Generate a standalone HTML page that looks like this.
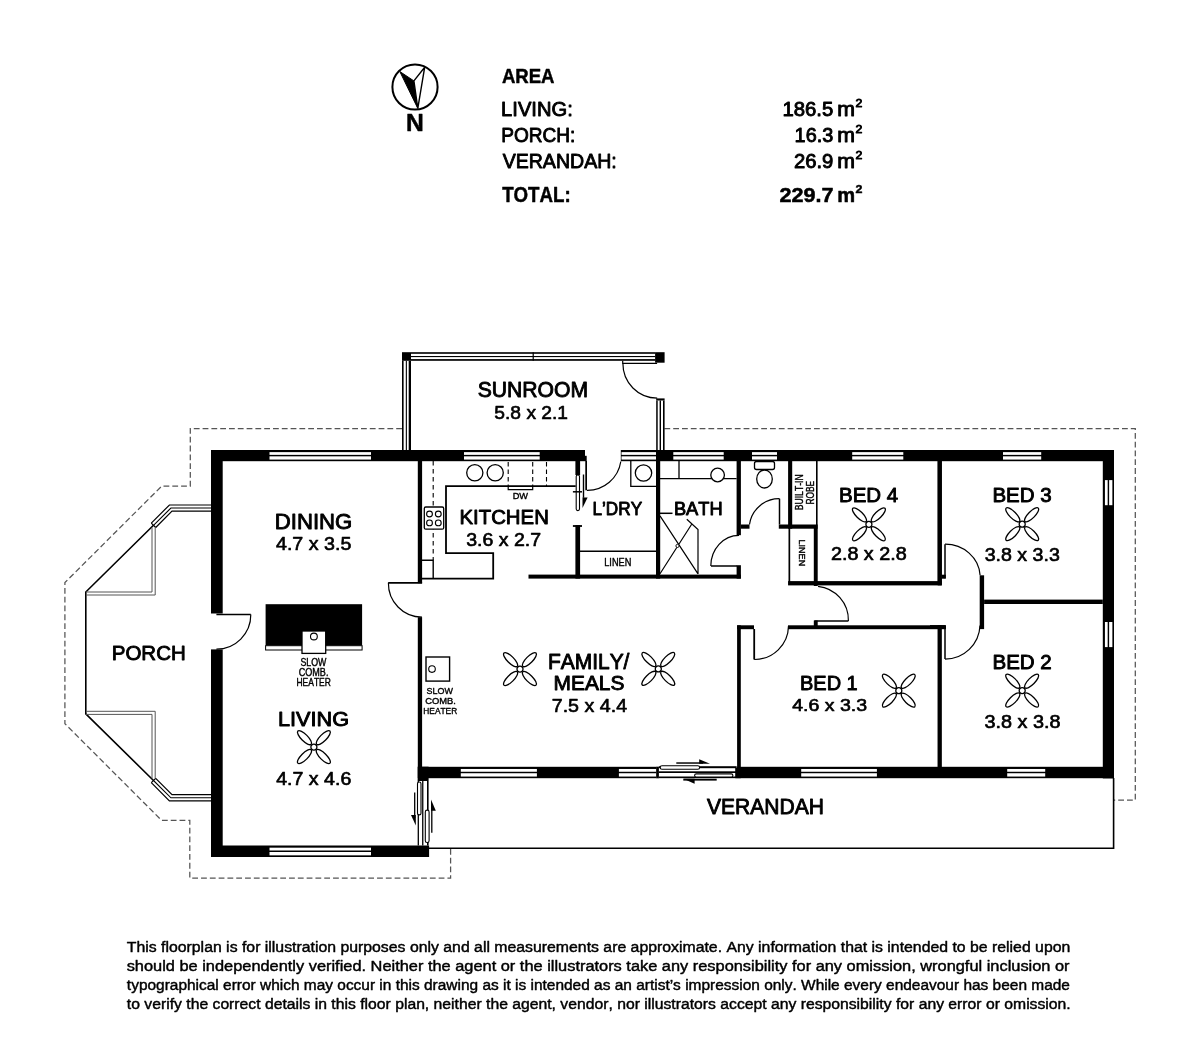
<!DOCTYPE html>
<html><head><meta charset="utf-8"><style>
html,body{margin:0;padding:0;background:#fff;}
body{width:1200px;height:1048px;overflow:hidden;position:relative;}
svg{position:absolute;left:0;top:0;will-change:transform;}
text{font-family:"Liberation Sans",sans-serif;font-kerning:none;}
.disc{position:absolute;left:127px;top:934px;width:943px;font-family:"Liberation Sans",sans-serif;font-size:15px;line-height:19.1px;color:#111;}
.disc div{text-align:justify;text-align-last:justify;white-space:nowrap;}
</style></head><body>
<svg width="1200" height="1048" viewBox="0 0 1200 1048">
<circle cx="415" cy="87" r="22.6" fill="none" stroke="#000" stroke-width="2"/>
<path d="M399.8 71.5 L413.9 80.9 L417.8 108.4 Z" fill="#000" stroke="#000" stroke-width="1"/>
<path d="M413.9 80.9 L424.7 67.2 L417.8 108.4 Z" fill="#fff" stroke="#000" stroke-width="1.4" stroke-linejoin="miter"/>
<text x="406.10" y="131.35" font-size="23.55" font-weight="bold" textLength="17.81" lengthAdjust="spacingAndGlyphs" fill="#000" stroke="#000" stroke-width="0.5" stroke-linejoin="round" >N</text>
<text x="501.89" y="82.85" font-size="20.79" font-weight="bold" textLength="52.65" lengthAdjust="spacingAndGlyphs" fill="#000" stroke="#000" stroke-width="0.5" stroke-linejoin="round" >AREA</text>
<text x="501.10" y="115.95" font-size="20.20" font-weight="normal" textLength="71.69" lengthAdjust="spacingAndGlyphs" fill="#000" stroke="#000" stroke-width="0.9" stroke-linejoin="round" >LIVING:</text>
<text x="501.19" y="142.25" font-size="20.79" font-weight="normal" textLength="74.10" lengthAdjust="spacingAndGlyphs" fill="#000" stroke="#000" stroke-width="0.9" stroke-linejoin="round" >PORCH:</text>
<text x="502.66" y="168.15" font-size="20.79" font-weight="normal" textLength="114.07" lengthAdjust="spacingAndGlyphs" fill="#000" stroke="#000" stroke-width="0.9" stroke-linejoin="round" >VERANDAH:</text>
<text x="502.14" y="202.35" font-size="21.37" font-weight="bold" textLength="68.51" lengthAdjust="spacingAndGlyphs" fill="#000" stroke="#000" stroke-width="0.5" stroke-linejoin="round" >TOTAL:</text>
<text x="782.40" y="115.95" font-size="19.33" font-weight="normal" textLength="50.80" lengthAdjust="spacingAndGlyphs" fill="#000" stroke="#000" stroke-width="0.9" stroke-linejoin="round" >186.5</text>
<g>
<text x="837.34" y="115.95" font-size="19.33" font-weight="normal" textLength="17.71" lengthAdjust="spacingAndGlyphs" fill="#000" stroke="#000" stroke-width="0.9" stroke-linejoin="round" >m</text>
</g>
<text x="855.53" y="106.55" font-size="11.63" font-weight="normal" textLength="6.84" lengthAdjust="spacingAndGlyphs" fill="#000" stroke="#000" stroke-width="0.9" stroke-linejoin="round" >2</text>
<text x="794.64" y="142.15" font-size="19.77" font-weight="normal" textLength="38.58" lengthAdjust="spacingAndGlyphs" fill="#000" stroke="#000" stroke-width="0.9" stroke-linejoin="round" >16.3</text>
<g>
<text x="837.34" y="142.15" font-size="19.77" font-weight="normal" textLength="17.71" lengthAdjust="spacingAndGlyphs" fill="#000" stroke="#000" stroke-width="0.9" stroke-linejoin="round" >m</text>
</g>
<text x="855.53" y="132.55" font-size="11.63" font-weight="normal" textLength="6.84" lengthAdjust="spacingAndGlyphs" fill="#000" stroke="#000" stroke-width="0.9" stroke-linejoin="round" >2</text>
<text x="793.93" y="168.05" font-size="19.62" font-weight="normal" textLength="39.38" lengthAdjust="spacingAndGlyphs" fill="#000" stroke="#000" stroke-width="0.9" stroke-linejoin="round" >26.9</text>
<g>
<text x="837.34" y="168.05" font-size="19.62" font-weight="normal" textLength="17.71" lengthAdjust="spacingAndGlyphs" fill="#000" stroke="#000" stroke-width="0.9" stroke-linejoin="round" >m</text>
</g>
<text x="855.53" y="158.55" font-size="11.77" font-weight="normal" textLength="6.84" lengthAdjust="spacingAndGlyphs" fill="#000" stroke="#000" stroke-width="0.9" stroke-linejoin="round" >2</text>
<text x="779.50" y="202.25" font-size="19.62" font-weight="bold" textLength="54.00" lengthAdjust="spacingAndGlyphs" fill="#000" stroke="#000" stroke-width="0.5" stroke-linejoin="round" >229.7</text>
<g>
<text x="837.23" y="202.25" font-size="19.62" font-weight="bold" textLength="17.87" lengthAdjust="spacingAndGlyphs" fill="#000" stroke="#000" stroke-width="0.5" stroke-linejoin="round" >m</text>
</g>
<text x="855.52" y="193.35" font-size="11.77" font-weight="bold" textLength="6.93" lengthAdjust="spacingAndGlyphs" fill="#000" stroke="#000" stroke-width="0.5" stroke-linejoin="round" >2</text>
<path d="M402 428.5 H190.3 V486.2 H161.6 L64.9 582.6 V723.7 L161.5 820.3 H189.8 V878 H450.6 V848.2" fill="none" stroke="#555" stroke-width="1.25" stroke-dasharray="5.8 3"/>
<path d="M664.4 428.6 H1135.3 V800 H1114" fill="none" stroke="#555" stroke-width="1.25" stroke-dasharray="5.8 3"/>
<path d="M151.3 523.1 L169.4 505 H211" stroke="#000" stroke-width="1.2" fill="none" />
<path d="M153.5 525.3 L170.9 508 H211" stroke="#000" stroke-width="1.1" fill="none" />
<path d="M155.7 527.5 L172 511.1 H211" stroke="#000" stroke-width="1.2" fill="none" />
<path d="M151.3 523.1 L155.7 527.5" stroke="#000" stroke-width="1.2" fill="none" />
<path d="M153.5 525.3 L85.8 592 V713.8 L153.5 780.5" stroke="#000" stroke-width="1.6" fill="none" />
<path d="M152 527.5 V592 H86" stroke="#555" stroke-width="1.0" fill="none" />
<path d="M155.2 527.5 V595 H86" stroke="#555" stroke-width="1.0" fill="none" />
<path d="M86 714.4 H152 V778.3" stroke="#555" stroke-width="1.0" fill="none" />
<path d="M86 711.3 H155.2 V778.3" stroke="#555" stroke-width="1.0" fill="none" />
<path d="M155.7 778.3 L172 794.7 H211" stroke="#000" stroke-width="1.2" fill="none" />
<path d="M153.5 780.5 L170.9 797.8 H211" stroke="#000" stroke-width="1.1" fill="none" />
<path d="M151.3 782.7 L169.4 800.8 H211" stroke="#000" stroke-width="1.2" fill="none" />
<path d="M155.7 778.3 L151.3 782.7" stroke="#000" stroke-width="1.2" fill="none" />
<rect x="211.00" y="450.00" width="374.00" height="11.20" fill="#000" />
<rect x="585.00" y="455.80" width="1.70" height="5.40" fill="#000" />
<rect x="620.80" y="450.00" width="493.20" height="11.20" fill="#000" />
<rect x="269.50" y="452.13" width="101.50" height="2.74" fill="#fff" />
<rect x="269.50" y="456.33" width="101.50" height="3.25" fill="#fff" />
<rect x="464.00" y="452.13" width="75.70" height="2.74" fill="#fff" />
<rect x="464.00" y="456.33" width="75.70" height="3.25" fill="#fff" />
<rect x="621.50" y="452.13" width="34.50" height="2.74" fill="#fff" />
<rect x="621.50" y="456.33" width="34.50" height="3.25" fill="#fff" />
<rect x="673.30" y="452.13" width="50.40" height="2.74" fill="#fff" />
<rect x="673.30" y="456.33" width="50.40" height="3.25" fill="#fff" />
<rect x="752.00" y="452.13" width="25.00" height="2.74" fill="#fff" />
<rect x="752.00" y="456.33" width="25.00" height="3.25" fill="#fff" />
<rect x="852.20" y="452.13" width="51.10" height="2.74" fill="#fff" />
<rect x="852.20" y="456.33" width="51.10" height="3.25" fill="#fff" />
<rect x="1003.00" y="452.13" width="38.20" height="2.74" fill="#fff" />
<rect x="1003.00" y="456.33" width="38.20" height="3.25" fill="#fff" />
<rect x="211.00" y="450.00" width="11.70" height="163.50" fill="#000" />
<rect x="211.00" y="649.40" width="11.70" height="207.60" fill="#000" />
<rect x="1102.80" y="450.00" width="11.20" height="328.40" fill="#000" />
<rect x="1104.93" y="480.10" width="2.74" height="25.10" fill="#fff" />
<rect x="1109.13" y="480.10" width="3.25" height="25.10" fill="#fff" />
<rect x="1104.93" y="622.00" width="2.74" height="25.10" fill="#fff" />
<rect x="1109.13" y="622.00" width="3.25" height="25.10" fill="#fff" />
<rect x="418.00" y="766.80" width="696.00" height="11.40" fill="#000" />
<rect x="460.80" y="768.97" width="76.10" height="2.79" fill="#fff" />
<rect x="460.80" y="773.24" width="76.10" height="3.31" fill="#fff" />
<rect x="618.90" y="768.97" width="37.60" height="2.79" fill="#fff" />
<rect x="618.90" y="773.24" width="37.60" height="3.31" fill="#fff" />
<rect x="801.20" y="768.97" width="75.70" height="2.79" fill="#fff" />
<rect x="801.20" y="773.24" width="75.70" height="3.31" fill="#fff" />
<rect x="1007.20" y="768.97" width="38.00" height="2.79" fill="#fff" />
<rect x="1007.20" y="773.24" width="38.00" height="3.31" fill="#fff" />
<rect x="656.50" y="766.80" width="80.10" height="11.40" fill="#fff" />
<rect x="211.00" y="845.50" width="218.10" height="11.50" fill="#000" />
<rect x="269.50" y="847.68" width="101.50" height="2.82" fill="#fff" />
<rect x="269.50" y="852.00" width="101.50" height="3.34" fill="#fff" />
<rect x="402.00" y="352.20" width="9.00" height="8.60" fill="#000" />
<rect x="402.00" y="360.80" width="1.60" height="89.20" fill="#000" />
<rect x="405.80" y="360.80" width="1.10" height="89.20" fill="#000" />
<rect x="408.70" y="360.80" width="2.30" height="89.20" fill="#000" />
<rect x="411.00" y="352.20" width="244.20" height="1.60" fill="#000" />
<rect x="411.00" y="356.00" width="244.20" height="1.10" fill="#000" />
<rect x="411.00" y="359.10" width="244.20" height="1.70" fill="#000" />
<rect x="532.60" y="352.20" width="1.20" height="8.60" fill="#000" />
<rect x="655.10" y="352.20" width="9.50" height="10.50" fill="#000" />
<path d="M622.7 360.8 V363.4 H657.1" stroke="#000" stroke-width="1.2" fill="none" />
<path d="M622.9 363.6 A34.3 34.3 0 0 0 657.2 398.1" stroke="#000" stroke-width="1.2" fill="none" />
<rect x="656.20" y="398.40" width="8.40" height="2.10" fill="#000" />
<rect x="656.20" y="400.50" width="1.50" height="49.50" fill="#000" />
<rect x="659.60" y="400.50" width="1.40" height="49.50" fill="#000" />
<rect x="663.00" y="400.50" width="1.60" height="49.50" fill="#000" />
<text x="477.69" y="397.25" font-size="21.51" font-weight="normal" textLength="110.39" lengthAdjust="spacingAndGlyphs" fill="#000" stroke="#000" stroke-width="0.9" stroke-linejoin="round" >SUNROOM</text>
<text x="494.36" y="418.68" font-size="19.11" font-weight="normal" textLength="73.66" lengthAdjust="spacingAndGlyphs" fill="#000" stroke="#000" stroke-width="0.65" stroke-linejoin="round" >5.8 x 2.1</text>
<rect x="417.80" y="461.00" width="4.30" height="122.20" fill="#000" />
<rect x="417.80" y="617.20" width="4.30" height="160.80" fill="#000" />
<line x1="388.20" y1="582.80" x2="422.10" y2="582.80" stroke="#000" stroke-width="1.8" />
<path d="M388.4 582.8 A33.8 33.8 0 0 0 422 617.2" stroke="#000" stroke-width="1.2" fill="none" />
<line x1="216.40" y1="614.60" x2="250.80" y2="614.60" stroke="#000" stroke-width="1.5" />
<path d="M250.8 614.6 A34.4 34.4 0 0 1 216.4 649.2" stroke="#000" stroke-width="1.2" fill="none" />
<path d="M575.7 486.1 H446 V553.2 H493.2 V578.7 H422" stroke="#000" stroke-width="1.8" fill="none" />
<path d="M433.2 461 V560.2" stroke="#000" stroke-width="1.1" stroke-dasharray="4.5 3.5" fill="none"/>
<path d="M422 560.2 H433.2 V578.7" stroke="#000" stroke-width="1.4" fill="none" />
<path d="M508.2 462 V486 M532.7 462 V486 M546.5 462 V486" stroke="#000" stroke-width="1.1" stroke-dasharray="4.5 3" fill="none"/>
<path d="M508.2 486 V489.7 H532.7 V486" stroke="#000" stroke-width="1.2" fill="none" />
<circle cx="474.8" cy="472.8" r="8.1" fill="none" stroke="#000" stroke-width="1.3"/>
<circle cx="495.2" cy="472.8" r="8.1" fill="none" stroke="#000" stroke-width="1.3"/>
<rect x="424.3" y="507" width="19.4" height="22.2" rx="1.5" fill="#fff" stroke="#000" stroke-width="1.3"/>
<circle cx="429.5" cy="514" r="2.9" fill="none" stroke="#000" stroke-width="1.1"/>
<circle cx="438.3" cy="514" r="2.9" fill="none" stroke="#000" stroke-width="1.1"/>
<circle cx="429.5" cy="522.9" r="2.9" fill="none" stroke="#000" stroke-width="1.1"/>
<circle cx="438.3" cy="522.9" r="2.9" fill="none" stroke="#000" stroke-width="1.1"/>
<text x="459.48" y="524.05" font-size="19.77" font-weight="normal" textLength="89.43" lengthAdjust="spacingAndGlyphs" fill="#000" stroke="#000" stroke-width="0.9" stroke-linejoin="round" >KITCHEN</text>
<text x="466.28" y="545.67" font-size="18.68" font-weight="normal" textLength="74.88" lengthAdjust="spacingAndGlyphs" fill="#000" stroke="#000" stroke-width="0.65" stroke-linejoin="round" >3.6 x 2.7</text>
<text x="512.64" y="499.30" font-size="9.30" font-weight="normal" textLength="15.39" lengthAdjust="spacingAndGlyphs" fill="#000" stroke="#000" stroke-width="0.4" stroke-linejoin="round" >DW</text>
<rect x="575.40" y="461.00" width="4.70" height="14.00" fill="#000" />
<rect x="576.2" y="475" width="3.3" height="35.6" rx="1.6" fill="#fff" stroke="#000" stroke-width="1.1"/>
<line x1="572.90" y1="491.80" x2="582.00" y2="491.80" stroke="#000" stroke-width="1.5" />
<rect x="582.80" y="474.50" width="1.40" height="23.30" fill="#000" />
<path d="M582.5 497.5 L587.6 497.5 L582.5 508 Z" fill="#000"/>
<rect x="585.30" y="461.00" width="1.70" height="29.30" fill="#000" />
<path d="M587 490.3 A33.8 33.8 0 0 0 620.8 461.5" stroke="#000" stroke-width="1.2" fill="none" />
<rect x="572.90" y="525.10" width="9.10" height="1.80" fill="#000" />
<rect x="575.40" y="525.10" width="4.70" height="53.50" fill="#000" />
<rect x="528.50" y="574.60" width="212.40" height="4.00" fill="#000" />
<line x1="580.00" y1="551.20" x2="656.00" y2="551.20" stroke="#000" stroke-width="1.5" />
<text x="604.25" y="565.70" font-size="10.47" font-weight="normal" textLength="27.11" lengthAdjust="spacingAndGlyphs" fill="#000" stroke="#000" stroke-width="0.4" stroke-linejoin="round" >LINEN</text>
<rect x="656.00" y="461.00" width="4.20" height="117.60" fill="#000" />
<path d="M630.8 461 V486.4 H656" stroke="#000" stroke-width="1.3" fill="none" />
<circle cx="643.5" cy="473" r="8.2" fill="none" stroke="#000" stroke-width="1.3"/>
<text x="592.44" y="515.35" font-size="18.02" font-weight="normal" textLength="49.69" lengthAdjust="spacingAndGlyphs" fill="#000" stroke="#000" stroke-width="0.9" stroke-linejoin="round" >L’DRY</text>
<path d="M660 478.6 H736.6 M679 461 V478.6" stroke="#000" stroke-width="1.3" fill="none" />
<circle cx="717.6" cy="475" r="6.8" fill="#fff" stroke="#000" stroke-width="1.3"/>
<rect x="736.60" y="461.00" width="4.30" height="74.20" fill="#000" />
<rect x="736.60" y="565.20" width="4.30" height="13.40" fill="#000" />
<line x1="711.00" y1="566.00" x2="737.00" y2="566.00" stroke="#000" stroke-width="1.5" />
<path d="M710.8 566 A28.2 30.7 0 0 1 739 535.3" stroke="#000" stroke-width="1.2" fill="none" />
<text x="673.95" y="515.45" font-size="18.46" font-weight="normal" textLength="48.69" lengthAdjust="spacingAndGlyphs" fill="#000" stroke="#000" stroke-width="0.9" stroke-linejoin="round" >BATH</text>
<line x1="660.00" y1="513.30" x2="672.50" y2="513.30" stroke="#000" stroke-width="1.5" />
<path d="M660 515.9 L698 573.8 M660 573.8 L691.5 524.5 M686.8 519.2 L698 529.5 V574" stroke="#000" stroke-width="1.2" fill="none" />
<circle cx="677.5" cy="545.9" r="1.6" fill="#fff" stroke="#000" stroke-width="0.9"/>
<rect x="754.5" y="461.5" width="20" height="8" rx="2" fill="#fff" stroke="#000" stroke-width="1.3"/>
<ellipse cx="764.5" cy="479" rx="7.8" ry="9" fill="#fff" stroke="#000" stroke-width="1.3"/>
<rect x="740.90" y="524.50" width="8.60" height="4.20" fill="#000" />
<rect x="778.80" y="524.50" width="38.90" height="4.20" fill="#000" />
<line x1="779.50" y1="498.70" x2="779.50" y2="524.50" stroke="#000" stroke-width="1.5" />
<path d="M749.5 524.5 A30 30 0 0 1 779.5 498.7" stroke="#000" stroke-width="1.2" fill="none" />
<rect x="788.10" y="461.00" width="4.10" height="67.70" fill="#000" />
<rect x="816.00" y="461.00" width="1.60" height="67.00" fill="#000" />
<g transform="translate(803.6 509.7) rotate(-90)">
<text x="-0.50" y="-0.20" font-size="10.61" font-weight="normal" textLength="35.81" lengthAdjust="spacingAndGlyphs" fill="#000" stroke="#000" stroke-width="0.4" stroke-linejoin="round" >BUILT-IN</text>
</g>
<g transform="translate(814.2 504.1) rotate(-90)">
<text x="-0.48" y="-0.20" font-size="10.32" font-weight="normal" textLength="23.64" lengthAdjust="spacingAndGlyphs" fill="#000" stroke="#000" stroke-width="0.4" stroke-linejoin="round" >ROBE</text>
</g>
<g transform="translate(798.4 540.1) rotate(90)">
<text x="-0.54" y="-0.20" font-size="9.74" font-weight="normal" textLength="26.58" lengthAdjust="spacingAndGlyphs" fill="#000" stroke="#000" stroke-width="0.4" stroke-linejoin="round" >LINEN</text>
</g>
<rect x="788.50" y="528.00" width="1.70" height="56.80" fill="#000" />
<rect x="813.80" y="528.00" width="3.90" height="58.00" fill="#000" />
<rect x="788.10" y="581.10" width="153.50" height="4.30" fill="#000" />
<rect x="937.70" y="461.00" width="4.20" height="124.40" fill="#000" />
<text x="839.07" y="502.05" font-size="19.91" font-weight="normal" textLength="59.18" lengthAdjust="spacingAndGlyphs" fill="#000" stroke="#000" stroke-width="0.9" stroke-linejoin="round" >BED 4</text>
<text x="830.93" y="560.47" font-size="17.81" font-weight="normal" textLength="75.80" lengthAdjust="spacingAndGlyphs" fill="#000" stroke="#000" stroke-width="0.65" stroke-linejoin="round" >2.8 x 2.8</text>
<g transform="translate(868.90,524.30)" fill="none" stroke="#000" stroke-width="1.3">
<ellipse cx="13.3" cy="0" rx="9.4" ry="3.3" transform="rotate(45)"/>
<ellipse cx="13.3" cy="0" rx="9.4" ry="3.3" transform="rotate(135)"/>
<ellipse cx="13.3" cy="0" rx="9.4" ry="3.3" transform="rotate(225)"/>
<ellipse cx="13.3" cy="0" rx="9.4" ry="3.3" transform="rotate(315)"/>
<circle r="3.0" fill="#fff"/>
</g>
<line x1="814.40" y1="620.90" x2="848.40" y2="620.90" stroke="#000" stroke-width="1.5" />
<rect x="813.80" y="620.50" width="3.90" height="5.50" fill="#000" />
<path d="M818 586.3 A34 34 0 0 1 848.4 620.9" stroke="#000" stroke-width="1.2" fill="none" />
<rect x="937.60" y="461.00" width="4.00" height="123.30" fill="#000" />
<text x="992.47" y="502.15" font-size="19.77" font-weight="normal" textLength="59.18" lengthAdjust="spacingAndGlyphs" fill="#000" stroke="#000" stroke-width="0.9" stroke-linejoin="round" >BED 3</text>
<text x="984.68" y="560.97" font-size="17.95" font-weight="normal" textLength="75.16" lengthAdjust="spacingAndGlyphs" fill="#000" stroke="#000" stroke-width="0.65" stroke-linejoin="round" >3.8 x 3.3</text>
<g transform="translate(1022.20,524.20)" fill="none" stroke="#000" stroke-width="1.3">
<ellipse cx="13.3" cy="0" rx="9.4" ry="3.3" transform="rotate(45)"/>
<ellipse cx="13.3" cy="0" rx="9.4" ry="3.3" transform="rotate(135)"/>
<ellipse cx="13.3" cy="0" rx="9.4" ry="3.3" transform="rotate(225)"/>
<ellipse cx="13.3" cy="0" rx="9.4" ry="3.3" transform="rotate(315)"/>
<circle r="3.0" fill="#fff"/>
</g>
<line x1="945.00" y1="544.20" x2="945.00" y2="578.30" stroke="#000" stroke-width="1.5" />
<rect x="941.60" y="574.70" width="4.20" height="4.00" fill="#000" />
<path d="M945 544.2 A35 33 0 0 1 980.1 575.3" stroke="#000" stroke-width="1.2" fill="none" />
<rect x="979.70" y="575.30" width="4.40" height="53.80" fill="#000" />
<rect x="984.10" y="599.60" width="118.70" height="4.40" fill="#000" />
<rect x="937.60" y="625.70" width="4.00" height="141.70" fill="#000" />
<rect x="930.00" y="625.10" width="15.60" height="3.90" fill="#000" />
<line x1="945.00" y1="629.00" x2="945.00" y2="659.10" stroke="#000" stroke-width="1.5" />
<path d="M945 659.1 A35 35 0 0 0 980 625.5" stroke="#000" stroke-width="1.2" fill="none" />
<text x="992.47" y="669.15" font-size="19.77" font-weight="normal" textLength="59.32" lengthAdjust="spacingAndGlyphs" fill="#000" stroke="#000" stroke-width="0.9" stroke-linejoin="round" >BED 2</text>
<text x="984.57" y="727.57" font-size="17.51" font-weight="normal" textLength="75.96" lengthAdjust="spacingAndGlyphs" fill="#000" stroke="#000" stroke-width="0.65" stroke-linejoin="round" >3.8 x 3.8</text>
<g transform="translate(1022.20,690.60)" fill="none" stroke="#000" stroke-width="1.3">
<ellipse cx="13.3" cy="0" rx="9.4" ry="3.3" transform="rotate(45)"/>
<ellipse cx="13.3" cy="0" rx="9.4" ry="3.3" transform="rotate(135)"/>
<ellipse cx="13.3" cy="0" rx="9.4" ry="3.3" transform="rotate(225)"/>
<ellipse cx="13.3" cy="0" rx="9.4" ry="3.3" transform="rotate(315)"/>
<circle r="3.0" fill="#fff"/>
</g>
<rect x="788.00" y="625.30" width="158.00" height="3.90" fill="#000" />
<rect x="737.10" y="625.30" width="16.90" height="3.90" fill="#000" />
<rect x="737.10" y="625.30" width="3.70" height="141.70" fill="#000" />
<rect x="937.90" y="625.30" width="3.70" height="141.70" fill="#000" />
<line x1="754.20" y1="629.00" x2="754.20" y2="659.50" stroke="#000" stroke-width="1.8" />
<path d="M754.2 659.5 A34 34 0 0 0 788.5 626" stroke="#000" stroke-width="1.2" fill="none" />
<text x="800.01" y="689.85" font-size="20.49" font-weight="normal" textLength="57.71" lengthAdjust="spacingAndGlyphs" fill="#000" stroke="#000" stroke-width="0.9" stroke-linejoin="round" >BED 1</text>
<text x="792.28" y="711.17" font-size="17.22" font-weight="normal" textLength="74.86" lengthAdjust="spacingAndGlyphs" fill="#000" stroke="#000" stroke-width="0.65" stroke-linejoin="round" >4.6 x 3.3</text>
<g transform="translate(898.80,690.70)" fill="none" stroke="#000" stroke-width="1.3">
<ellipse cx="13.3" cy="0" rx="9.4" ry="3.3" transform="rotate(45)"/>
<ellipse cx="13.3" cy="0" rx="9.4" ry="3.3" transform="rotate(135)"/>
<ellipse cx="13.3" cy="0" rx="9.4" ry="3.3" transform="rotate(225)"/>
<ellipse cx="13.3" cy="0" rx="9.4" ry="3.3" transform="rotate(315)"/>
<circle r="3.0" fill="#fff"/>
</g>
<text x="547.93" y="668.95" font-size="21.37" font-weight="normal" textLength="81.52" lengthAdjust="spacingAndGlyphs" fill="#000" stroke="#000" stroke-width="0.9" stroke-linejoin="round" >FAMILY/</text>
<text x="553.54" y="690.05" font-size="20.06" font-weight="normal" textLength="70.87" lengthAdjust="spacingAndGlyphs" fill="#000" stroke="#000" stroke-width="0.9" stroke-linejoin="round" >MEALS</text>
<text x="551.72" y="712.17" font-size="18.97" font-weight="normal" textLength="75.33" lengthAdjust="spacingAndGlyphs" fill="#000" stroke="#000" stroke-width="0.65" stroke-linejoin="round" >7.5 x 4.4</text>
<g transform="translate(520.00,669.10)" fill="none" stroke="#000" stroke-width="1.3">
<ellipse cx="13.3" cy="0" rx="9.4" ry="3.3" transform="rotate(45)"/>
<ellipse cx="13.3" cy="0" rx="9.4" ry="3.3" transform="rotate(135)"/>
<ellipse cx="13.3" cy="0" rx="9.4" ry="3.3" transform="rotate(225)"/>
<ellipse cx="13.3" cy="0" rx="9.4" ry="3.3" transform="rotate(315)"/>
<circle r="3.0" fill="#fff"/>
</g>
<g transform="translate(658.30,668.90)" fill="none" stroke="#000" stroke-width="1.3">
<ellipse cx="13.3" cy="0" rx="9.4" ry="3.3" transform="rotate(45)"/>
<ellipse cx="13.3" cy="0" rx="9.4" ry="3.3" transform="rotate(135)"/>
<ellipse cx="13.3" cy="0" rx="9.4" ry="3.3" transform="rotate(225)"/>
<ellipse cx="13.3" cy="0" rx="9.4" ry="3.3" transform="rotate(315)"/>
<circle r="3.0" fill="#fff"/>
</g>
<rect x="426" y="657" width="23.6" height="24.1" fill="#fff" stroke="#000" stroke-width="1.4"/>
<circle cx="432" cy="669.1" r="3.3" fill="none" stroke="#000" stroke-width="1.1"/>
<text x="426.49" y="693.80" font-size="9.45" font-weight="normal" textLength="26.34" lengthAdjust="spacingAndGlyphs" fill="#000" stroke="#000" stroke-width="0.4" stroke-linejoin="round" >SLOW</text>
<text x="425.23" y="704.10" font-size="9.45" font-weight="normal" textLength="30.63" lengthAdjust="spacingAndGlyphs" fill="#000" stroke="#000" stroke-width="0.4" stroke-linejoin="round" >COMB.</text>
<text x="423.31" y="714.40" font-size="9.45" font-weight="normal" textLength="33.87" lengthAdjust="spacingAndGlyphs" fill="#000" stroke="#000" stroke-width="0.4" stroke-linejoin="round" >HEATER</text>
<rect x="656.20" y="766.80" width="2.70" height="11.40" fill="#000" />
<rect x="658.90" y="766.25" width="77.70" height="1.95" fill="#000" />
<rect x="658.90" y="771.30" width="77.70" height="1.70" fill="#000" />
<rect x="658.90" y="776.50" width="77.70" height="1.50" fill="#000" />
<rect x="735.20" y="768.00" width="5.60" height="10.20" fill="#000" />
<rect x="660.2" y="765.7" width="39.4" height="3.6" rx="1.8" fill="#fff" stroke="#000" stroke-width="1.1"/>
<rect x="694.6" y="773.9" width="38.3" height="3.2" rx="1.6" fill="#fff" stroke="#000" stroke-width="1.1"/>
<rect x="676.30" y="762.30" width="26.70" height="1.45" fill="#000" />
<path d="M699.2 759.2 L710 763.75 L699.2 763.75 Z" fill="#000"/>
<rect x="683.30" y="778.75" width="33.40" height="1.85" fill="#000" />
<path d="M683.3 778.75 L694.6 778.75 L694.6 783.75 Z" fill="#000"/>
<text x="274.73" y="528.75" font-size="21.80" font-weight="normal" textLength="77.57" lengthAdjust="spacingAndGlyphs" fill="#000" stroke="#000" stroke-width="0.9" stroke-linejoin="round" >DINING</text>
<text x="275.97" y="550.47" font-size="18.97" font-weight="normal" textLength="75.33" lengthAdjust="spacingAndGlyphs" fill="#000" stroke="#000" stroke-width="0.65" stroke-linejoin="round" >4.7 x 3.5</text>
<rect x="265.60" y="604.20" width="96.50" height="41.50" fill="#000" />
<rect x="265.6" y="645.7" width="96.5" height="4.3" fill="#fff" stroke="#000" stroke-width="1"/>
<rect x="302" y="631" width="23.7" height="22.4" fill="#fff" stroke="#000" stroke-width="1.3"/>
<circle cx="313.9" cy="636.5" r="3.4" fill="none" stroke="#000" stroke-width="1.1"/>
<text x="300.40" y="665.60" font-size="10.17" font-weight="normal" textLength="26.03" lengthAdjust="spacingAndGlyphs" fill="#000" stroke="#000" stroke-width="0.4" stroke-linejoin="round" >SLOW</text>
<text x="298.74" y="675.90" font-size="10.17" font-weight="normal" textLength="29.69" lengthAdjust="spacingAndGlyphs" fill="#000" stroke="#000" stroke-width="0.4" stroke-linejoin="round" >COMB.</text>
<text x="296.50" y="686.30" font-size="10.17" font-weight="normal" textLength="34.39" lengthAdjust="spacingAndGlyphs" fill="#000" stroke="#000" stroke-width="0.4" stroke-linejoin="round" >HEATER</text>
<text x="277.97" y="725.95" font-size="20.20" font-weight="normal" textLength="71.10" lengthAdjust="spacingAndGlyphs" fill="#000" stroke="#000" stroke-width="0.9" stroke-linejoin="round" >LIVING</text>
<text x="276.18" y="784.67" font-size="18.39" font-weight="normal" textLength="75.16" lengthAdjust="spacingAndGlyphs" fill="#000" stroke="#000" stroke-width="0.65" stroke-linejoin="round" >4.7 x 4.6</text>
<g transform="translate(313.90,747.10)" fill="none" stroke="#000" stroke-width="1.3">
<ellipse cx="13.3" cy="0" rx="9.4" ry="3.3" transform="rotate(45)"/>
<ellipse cx="13.3" cy="0" rx="9.4" ry="3.3" transform="rotate(135)"/>
<ellipse cx="13.3" cy="0" rx="9.4" ry="3.3" transform="rotate(225)"/>
<ellipse cx="13.3" cy="0" rx="9.4" ry="3.3" transform="rotate(315)"/>
<circle r="3.0" fill="#fff"/>
</g>
<text x="111.77" y="660.35" font-size="20.79" font-weight="normal" textLength="73.95" lengthAdjust="spacingAndGlyphs" fill="#000" stroke="#000" stroke-width="0.9" stroke-linejoin="round" >PORCH</text>
<rect x="417.65" y="766.70" width="10.95" height="14.30" fill="#000" />
<line x1="418.30" y1="781.00" x2="418.30" y2="845.50" stroke="#000" stroke-width="1.3" />
<line x1="422.75" y1="781.00" x2="422.75" y2="845.50" stroke="#000" stroke-width="1.3" />
<line x1="427.80" y1="781.00" x2="427.80" y2="845.50" stroke="#000" stroke-width="1.6" />
<rect x="417.5" y="782" width="3.5" height="32.9" rx="1.7" fill="#fff" stroke="#000" stroke-width="1.1"/>
<rect x="425.3" y="810.1" width="3.8" height="32.4" rx="1.8" fill="#fff" stroke="#000" stroke-width="1.1"/>
<line x1="414.70" y1="792.50" x2="414.70" y2="818.00" stroke="#000" stroke-width="1.3" />
<path d="M411 815 L415.8 815 L415.8 825.5 Z" fill="#000"/>
<line x1="431.80" y1="808.00" x2="431.80" y2="832.80" stroke="#000" stroke-width="1.3" />
<path d="M431 799.4 L435.8 810.8 L431 810.8 Z" fill="#000"/>
<path d="M429 848.2 H1113.6 V778" stroke="#000" stroke-width="1.6" fill="none" />
<text x="706.96" y="814.15" font-size="21.51" font-weight="normal" textLength="116.91" lengthAdjust="spacingAndGlyphs" fill="#000" stroke="#000" stroke-width="0.9" stroke-linejoin="round" >VERANDAH</text>
<text x="126.77" y="951.77" font-size="15.33" font-weight="normal" textLength="943.53" lengthAdjust="spacingAndGlyphs" fill="#000" stroke="#000" stroke-width="0.45" stroke-linejoin="round" >This floorplan is for illustration purposes only and all measurements are approximate. Any information that is intended to be relied upon</text>
<text x="126.67" y="970.98" font-size="15.33" font-weight="normal" textLength="942.88" lengthAdjust="spacingAndGlyphs" fill="#000" stroke="#000" stroke-width="0.45" stroke-linejoin="round" >should be independently verified. Neither the agent or the illustrators take any responsibility for any omission, wrongful inclusion or</text>
<text x="126.89" y="990.17" font-size="15.33" font-weight="normal" textLength="943.07" lengthAdjust="spacingAndGlyphs" fill="#000" stroke="#000" stroke-width="0.45" stroke-linejoin="round" >typographical error which may occur in this drawing as it is intended as an artist’s impression only. While every endeavour has been made</text>
<text x="126.89" y="1009.38" font-size="15.33" font-weight="normal" textLength="943.82" lengthAdjust="spacingAndGlyphs" fill="#000" stroke="#000" stroke-width="0.45" stroke-linejoin="round" >to verify the correct details in this floor plan, neither the agent, vendor, nor illustrators accept any responsibility for any error or omission.</text>
</svg>
</body></html>
